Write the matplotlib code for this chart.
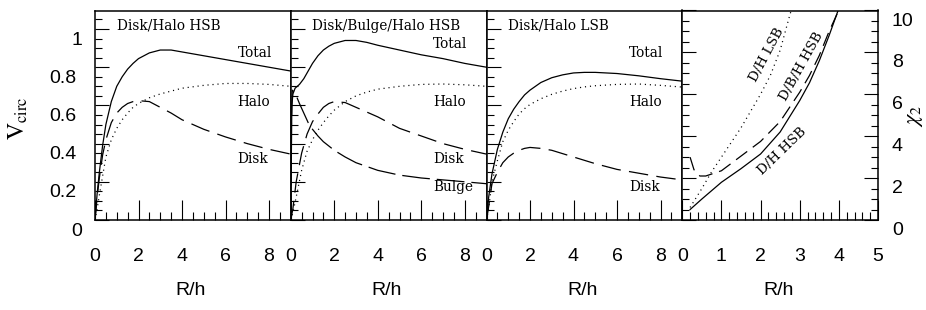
import matplotlib
matplotlib.use('Agg')
import matplotlib.pyplot as plt
from matplotlib.ticker import MultipleLocator
from matplotlib.transforms import ScaledTranslation

plt.rcParams['lines.scale_dashes'] = False
plt.rcParams['mathtext.fontset'] = 'stix'

# ---------------- data ----------------
# Panel 1: Disk/Halo HSB
r1 = [0, 0.1, 0.2, 0.35, 0.5, 0.75, 1.0, 1.25, 1.5, 1.75, 2.0, 2.5, 3.0, 3.5, 4, 5, 6, 7, 8, 9]
total1 = [0, 0.14, 0.25, 0.39, 0.50, 0.62, 0.70, 0.75, 0.79, 0.82, 0.845, 0.875, 0.89, 0.89, 0.88, 0.86, 0.84, 0.82, 0.80, 0.78]
halo1 = [0, 0.06, 0.13, 0.23, 0.33, 0.42, 0.48, 0.525, 0.56, 0.59, 0.61, 0.64, 0.66, 0.675, 0.69, 0.705, 0.715, 0.715, 0.71, 0.70]
disk1 = [0, 0.12, 0.22, 0.34, 0.42, 0.51, 0.56, 0.59, 0.61, 0.62, 0.625, 0.62, 0.59, 0.56, 0.525, 0.475, 0.435, 0.40, 0.37, 0.345]

# Panel 2: Disk/Bulge/Halo HSB
r2 = [0, 0.05, 0.1, 0.2, 0.4, 0.6, 0.8, 1.0, 1.25, 1.5, 1.75, 2.0, 2.5, 3.0, 3.5, 4, 5, 6, 7, 8, 9]
total2 = [0, 0.60, 0.66, 0.69, 0.71, 0.74, 0.78, 0.82, 0.86, 0.89, 0.91, 0.925, 0.94, 0.94, 0.93, 0.915, 0.89, 0.865, 0.845, 0.82, 0.80]
r2b = [0, 0.1, 0.25, 0.5, 0.75, 1.0, 1.25, 1.5, 1.75, 2.0, 2.5, 3.0, 3.5, 4, 5, 6, 7, 8, 9]
halo2 = [0, 0.04, 0.12, 0.26, 0.36, 0.42, 0.47, 0.51, 0.545, 0.575, 0.62, 0.65, 0.67, 0.685, 0.70, 0.71, 0.712, 0.708, 0.70]
disk2 = [0, 0.06, 0.20, 0.35, 0.45, 0.515, 0.555, 0.59, 0.61, 0.62, 0.615, 0.59, 0.565, 0.54, 0.48, 0.44, 0.40, 0.37, 0.345]
r2c = [0, 0.03, 0.07, 0.2, 0.4, 0.6, 0.8, 1.0, 1.25, 1.5, 2.0, 2.5, 3.0, 4, 5, 6, 7, 8, 9]
bulge2 = [0, 0.50, 0.68, 0.665, 0.61, 0.56, 0.51, 0.475, 0.44, 0.41, 0.365, 0.33, 0.30, 0.26, 0.235, 0.22, 0.21, 0.20, 0.19]

# Panel 3: Disk/Halo LSB
r3 = [0, 0.1, 0.25, 0.5, 0.75, 1.0, 1.25, 1.5, 1.75, 2.0, 2.5, 3.0, 3.5, 4, 4.5, 5, 6, 7, 8, 9]
total3 = [0, 0.12, 0.24, 0.37, 0.46, 0.53, 0.58, 0.62, 0.655, 0.68, 0.72, 0.745, 0.76, 0.77, 0.773, 0.773, 0.767, 0.755, 0.74, 0.727]
halo3 = [0, 0.06, 0.20, 0.31, 0.41, 0.47, 0.515, 0.555, 0.583, 0.605, 0.635, 0.658, 0.675, 0.688, 0.697, 0.703, 0.71, 0.712, 0.705, 0.696]
r3d = [0, 0.1, 0.25, 0.5, 0.75, 1.0, 1.25, 1.5, 1.75, 2.0, 2.5, 3.0, 4, 5, 6, 7, 8, 9]
disk3 = [0, 0.07, 0.19, 0.25, 0.30, 0.33, 0.35, 0.365, 0.375, 0.38, 0.375, 0.365, 0.33, 0.295, 0.265, 0.245, 0.225, 0.21]

# Panel 4: chi_2 vs R/h
r4_dh = [0.2, 0.5, 1.0, 1.5, 2.0, 2.5, 3.0, 3.25, 3.5, 3.75, 4.0]
chi_dh_hsb = [0.5, 1.0, 1.8, 2.45, 3.15, 4.2, 5.7, 6.55, 7.6, 8.8, 10.1]
r4_dbh = [0.2, 0.3, 0.45, 0.6, 1.0, 1.5, 2.0, 2.5, 3.0, 3.25, 3.5, 3.75, 4.02]
chi_dbh_hsb = [3.0, 2.4, 2.1, 2.1, 2.35, 3.05, 3.75, 4.7, 6.1, 6.9, 7.85, 9.0, 10.1]
r4_lsb = [0.2, 0.5, 0.75, 1.0, 1.5, 2.0, 2.25, 2.5, 2.75, 2.8]
chi_dh_lsb = [0.6, 1.5, 2.3, 3.0, 4.4, 6.0, 6.9, 8.1, 9.8, 10.1]

# tick labels
v_ticks = [0, 0.2, 0.4, 0.6, 0.8, 1.0]
v_labels = ['0', '0.2', '0.4', '0.6', '0.8', '1']
r_ticks = [0, 2, 4, 6, 8]
r_labels = ['0', '2', '4', '6', '8']
r4_ticks = [0, 1, 2, 3, 4, 5]
r4_labels = ['0', '1', '2', '3', '4', '5']
chi_ticks = [0, 2, 4, 6, 8, 10]
chi_labels = ['0', '2', '4', '6', '8', '10']

panel_titles = ['Disk/Halo HSB', 'Disk/Bulge/Halo HSB', 'Disk/Halo LSB']

# ---------------- figure ----------------
W, H = 926, 310
DPI = 100
fig = plt.figure(figsize=(W / DPI, H / DPI), dpi=DPI)
lefts = [95, 290.75, 486.5, 682.25]
pw = 195.75
bot_px, top_px = 220, 10.5
axes = [fig.add_axes([l / W, (H - bot_px) / H, pw / W, (bot_px - top_px) / H]) for l in lefts]

SANS = 'Liberation Sans'
SERIF = 'DejaVu Serif'
TICKFS = 14
LW = 0.9
solid = dict(color='black', lw=LW, ls='-')
dotted = dict(color='black', lw=LW, ls=(0, (0.8, 2.8)))
dashed = dict(color='black', lw=LW, ls=(0, (14, 6)))
longdash = dict(color='black', lw=LW, ls=(0, (20, 5)))
shortdash = dict(color='black', lw=LW, ls=(0, (10, 5)))

for ax in axes:
    for s in ax.spines.values():
        s.set_linewidth(1.1)
    ax.tick_params(which='both', direction='in', width=0.8, top=False, right=False)
    ax.tick_params(axis='x', which='major', length=14.5, pad=20, labelsize=TICKFS)
    ax.tick_params(axis='x', which='minor', length=5.8)
    ax.tick_params(axis='y', which='major', length=10, pad=13.3, labelsize=TICKFS)
    ax.tick_params(axis='y', which='minor', length=4.7)

# V_circ panels
data_panels = [
    [(r1, total1, solid), (r1, halo1, dotted), (r1, disk1, dashed)],
    [(r2, total2, solid), (r2b, halo2, dotted), (r2b, disk2, dashed), (r2c, bulge2, longdash)],
    [(r3, total3, solid), (r3, halo3, dotted), (r3d, disk3, dashed)],
]
panel_labels = [
    [('Total', 0.874), ('Halo', 0.618), ('Disk', 0.319)],
    [('Total', 0.921), ('Halo', 0.618), ('Disk', 0.319), ('Bulge', 0.173)],
    [('Total', 0.874), ('Halo', 0.618), ('Disk', 0.173)],
]

def shift_tick_labels(ax, labels, dy_px, dx_int_px=0.0):
    ticks = ax.yaxis.get_major_ticks()
    for tk, lab in zip(ticks, labels):
        dx = dx_int_px if '.' not in lab else 0.0
        for t in (tk.label1, tk.label2):
            t.set_transform(t.get_transform() +
                            ScaledTranslation(dx / DPI, -dy_px / DPI, fig.dpi_scale_trans))

for i in range(3):
    ax = axes[i]
    for x, y, st in data_panels[i]:
        ax.plot(x, y, **st)
    ax.set_xlim(0, 9)
    ax.set_ylim(0, 1.097)
    ax.set_xticks(r_ticks, r_labels, fontfamily=SANS)
    ax.xaxis.set_minor_locator(MultipleLocator(0.5))
    ax.set_yticks(v_ticks, v_labels, fontfamily=SANS)
    ax.yaxis.set_minor_locator(MultipleLocator(0.05))
    if i > 0:
        ax.tick_params(axis='y', labelleft=False)
    ax.text(1.0, 1.016, panel_titles[i], ha='left', va='center',
            fontfamily=SERIF, fontsize=9.8)
    for txt, yv in panel_labels[i]:
        ax.text(6.55, yv, txt, ha='left', va='center', fontfamily=SERIF, fontsize=9.8)
    ax.set_xlabel('R/h', fontfamily=SANS, fontsize=TICKFS)
    ax.xaxis.set_label_coords(0.49, -0.296)

shift_tick_labels(axes[0], v_labels, 9, 6)

# chi_2 panel
ax = axes[3]
ax.plot(r4_dh, chi_dh_hsb, **solid)
ax.plot(r4_dbh, chi_dbh_hsb, **shortdash)
ax.plot(r4_lsb, chi_dh_lsb, **dotted)
ax.set_xlim(0, 5)
ax.set_ylim(0, 10)
ax.set_xticks(r4_ticks, r4_labels, fontfamily=SANS)
ax.xaxis.set_minor_locator(MultipleLocator(0.2))
ax.set_yticks(chi_ticks, chi_labels, fontfamily=SANS)
ax.yaxis.set_minor_locator(MultipleLocator(0.5))
ax.tick_params(axis='y', which='both', left=True, right=True, labelleft=False, labelright=True)
ax.tick_params(axis='y', which='major', pad=10)
ax.set_xlabel('R/h', fontfamily=SANS, fontsize=TICKFS)
ax.xaxis.set_label_coords(0.49, -0.296)
ax.text(2.15, 7.9, 'D/H LSB', rotation=62, ha='center', va='center',
        rotation_mode='anchor', fontfamily=SERIF, fontsize=9.6)
ax.text(3.05, 7.35, 'D/B/H HSB', rotation=61, ha='center', va='center',
        rotation_mode='anchor', fontfamily=SERIF, fontsize=9.6)
ax.text(2.55, 3.3, 'D/H HSB', rotation=44, ha='center', va='center',
        rotation_mode='anchor', fontfamily=SERIF, fontsize=9.6)
for tk in ax.yaxis.get_major_ticks():
    for t in (tk.label1, tk.label2):
        t.set_transform(t.get_transform() +
                        ScaledTranslation(0, -8.5 / DPI, fig.dpi_scale_trans))

fig.text(18 / W, 1 - 118 / H, r'$\mathrm{V_{circ}}$', rotation=90,
         ha='center', va='center', fontsize=17)
fig.text(915 / W, 1 - 116 / H, r'$\chi_2$', rotation=90,
         ha='center', va='center', fontsize=16)

fig.savefig('out.png', dpi=DPI)
